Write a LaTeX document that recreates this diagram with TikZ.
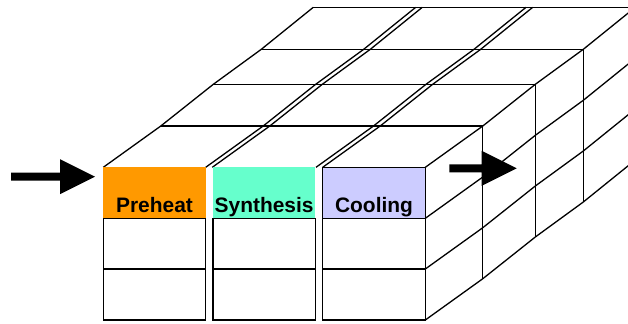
\documentclass[tikz,border=0pt]{standalone}
\usepackage{fontspec}
\setmainfont{Liberation Sans}
\usetikzlibrary{calc}
\definecolor{preheatC}{RGB}{255,153,0}
\definecolor{synthC}{RGB}{102,255,204}
\definecolor{coolC}{RGB}{204,204,255}
\newcommand\depthline[2]{\draw (#1,#2) -- ++(57.5,-41.3) -- ++(52.5,-41.7) -- ++(48,-35) -- ++(52,-42);}
\newcommand\fatarrow[2]{\fill ($(#1)+(0,-4)$) -- ($(#2)+(-35,-4)$) -- ($(#2)+(-35,-17.5)$) -- (#2) -- ($(#2)+(-35,17.5)$) -- ($(#2)+(-35,4)$) -- ($(#1)+(0,4)$) -- cycle;}
\begin{document}
\begin{tikzpicture}[x=1bp,y=-1bp, line width=1.3bp, line join=miter,
  cell/.style={draw=black, fill=white, minimum width=102.4bp, minimum height=50.8bp, inner sep=0pt, outer sep=0pt},
  colcell/.style={minimum width=102.4bp, minimum height=51bp, inner sep=0pt, outer sep=0pt},
  lbl/.style={font=\fontsize{21}{25}\selectfont\bfseries, anchor=base, inner sep=0pt}]
\useasboundingbox (0,0) rectangle (628,323);
% top face: depth lines from the front top corners
\foreach \x in {103.3,205.7,212.3,316,322.7,425.3} {\depthline{\x}{167.3}}
% top face: cross lines at each depth layer
\foreach \dx/\dy in {57.5/-41.3,110/-83,158/-118,210/-160}
  {\draw (103.3+\dx,167.3+\dy) -- (425.3+\dx,167.3+\dy);}
% right face: vertical lines at each depth layer
\foreach \dx/\dy in {57.5/-41.3,110/-83,158/-118}
  {\draw (425.3+\dx,167.3+\dy) -- (425.3+\dx,320+\dy);}
% right face: depth lines from the row corners
\foreach \y in {218.3,269,320} {\depthline{425.3}{\y}}
% front cells
\node[colcell, fill=preheatC] (pre) at (154.5,192.8) {};
\node[colcell, fill=synthC] (syn) at (264.15,192.8) {};
\node[colcell, fill=coolC, draw=black] (cool) at (374,192.8) {};
\node[cell] (pre2) at (154.5,243.65) {};
\node[cell] (pre3) at (154.5,294.5) {};
\node[cell] (syn2) at (264.15,243.65) {};
\node[cell] (syn3) at (264.15,294.5) {};
\node[cell] (cool2) at (374,243.65) {};
\node[cell] (cool3) at (374,294.5) {};
\draw (cool.north east) -- (cool3.south east);
% labels
\node[lbl] (tpre) at (154.5,212.5) {Preheat};
\node[lbl] (tsyn) at (264.15,212.5) {Synthesis};
\node[lbl] (tcool) at (374,212.5) {Cooling};
% arrows
\coordinate (inA) at (11,176.7);
\coordinate (inB) at (95,176.7);
\coordinate (midA) at (449.3,168.3);
\coordinate (midB) at (516.7,168.3);
\fatarrow{inA}{inB}
\fatarrow{midA}{midB}
\end{tikzpicture}
\end{document}
